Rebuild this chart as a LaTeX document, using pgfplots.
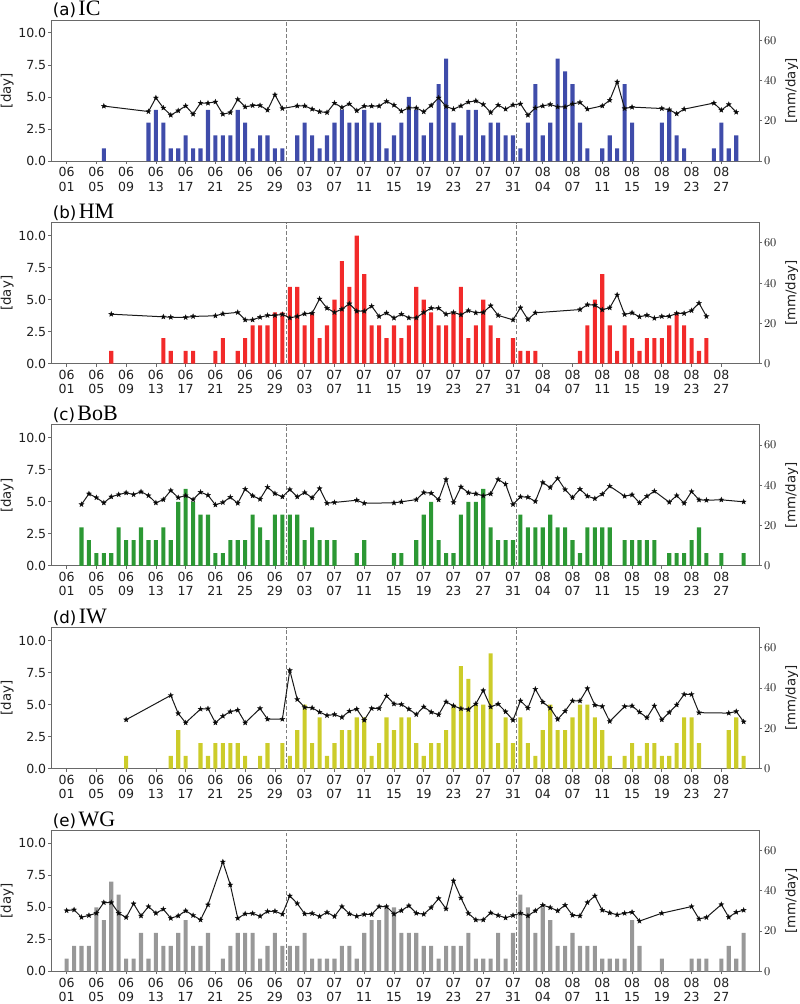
\documentclass[border=0pt]{standalone}
\usepackage{pgfplots}
\pgfplotsset{compat=1.18}
\usepackage{pgfplotstable}
\usepackage{fontspec}
\setmainfont{DejaVu Sans}
\newfontfamily\serifT{Liberation Serif}

\definecolor{cA}{RGB}{63,76,170}
\definecolor{cB}{RGB}{242,42,42}
\definecolor{cC}{RGB}{44,152,52}
\definecolor{cD}{RGB}{204,204,42}
\definecolor{cE}{RGB}{152,152,152}
\definecolor{frameC}{RGB}{105,105,105}
\definecolor{dashC}{RGB}{125,125,125}

\pgfdeclareplotmark{fstar}{%
  \pgfpathmoveto{\pgfpointpolar{90}{\pgfplotmarksize}}%
  \pgfpathlineto{\pgfpointpolar{126}{0.42\pgfplotmarksize}}%
  \pgfpathlineto{\pgfpointpolar{162}{\pgfplotmarksize}}%
  \pgfpathlineto{\pgfpointpolar{198}{0.42\pgfplotmarksize}}%
  \pgfpathlineto{\pgfpointpolar{234}{\pgfplotmarksize}}%
  \pgfpathlineto{\pgfpointpolar{270}{0.42\pgfplotmarksize}}%
  \pgfpathlineto{\pgfpointpolar{306}{\pgfplotmarksize}}%
  \pgfpathlineto{\pgfpointpolar{342}{0.42\pgfplotmarksize}}%
  \pgfpathlineto{\pgfpointpolar{18}{\pgfplotmarksize}}%
  \pgfpathlineto{\pgfpointpolar{54}{0.42\pgfplotmarksize}}%
  \pgfpathclose\pgfusepathqfillstroke}

% x = day index (0 = 06/01), n = days [day], r = rainfall [mm/day]
\pgfplotstableread{
x n r
5 1 27.3
11 3 24.6
12 4 31.4
13 3 26.4
14 1 22.8
15 1 25.0
16 2 27.4
17 1 23.3
18 1 28.8
19 4 28.8
20 2 29.4
21 2 23.3
22 2 24.1
23 4 30.6
24 3 26.9
25 1 27.6
26 2 27.6
27 2 25.3
28 1 32.9
29 1 26.1
31 2 27.4
32 3 27.4
33 2 25.8
34 1 24.5
35 2 24.1
36 3 28.8
37 4 26.6
38 3 28.4
39 3 25.0
40 4 27.3
41 3 27.3
42 3 27.3
43 1 29.6
44 2 27.8
45 3 24.8
46 5 26.4
47 4 26.4
48 2 24.5
49 3 27.6
50 6 31.4
51 8 27.1
52 3 25.8
53 2 27.4
54 4 29.3
55 4 29.9
56 2 28.1
57 3 24.1
58 3 27.8
59 2 25.8
60 2 27.9
61 1 28.4
62 3 22.8
63 6 26.4
64 2 27.4
65 3 28.1
66 8 26.9
67 7 26.9
68 6 28.4
69 3 29.1
70 1 25.8
72 1 27.4
73 2 30.2
74 1 39.3
75 6 26.1
76 3 26.8
80 3 26.1
81 4 25.5
82 2 23.5
83 1 25.8
87 1 28.8
88 3 25.3
89 1 28.1
90 2 24.3
}\tA

\pgfplotstableread{
x n r
6 1 24.6
13 2 23.3
14 1 23.1
16 1 23.0
17 1 23.5
20 1 23.8
21 2 24.8
23 1 25.5
24 2 21.8
25 3 21.8
26 3 23.1
27 3 24.0
28 4 24.0
29 4 24.5
30 6 22.8
31 6 23.5
32 3 24.8
33 4 25.1
34 2 32.2
35 3 27.6
36 5 25.5
37 8 27.1
38 6 29.8
39 10 26.1
40 7 26.1
41 3 28.6
42 3 23.5
43 2 25.2
44 3 22.7
45 2 24.6
46 3 22.8
47 6 22.8
48 5 25.5
49 4 27.6
50 3 27.6
51 3 24.6
52 4 25.5
53 6 24.3
54 2 26.4
55 3 25.3
56 5 25.5
57 3 28.8
58 2 24.0
60 2 21.8
61 1 27.8
62 1 22.0
63 1 25.3
69 1 26.9
70 3 29.3
71 5 29.1
72 7 26.8
73 3 27.8
74 1 34.2
75 3 24.5
76 2 25.3
77 1 23.3
78 2 24.1
79 2 22.6
80 2 23.5
81 3 23.6
82 4 25.0
83 3 25.0
84 2 26.4
85 1 30.1
86 2 23.5
}\tB

\pgfplotstableread{
x n r
2 3 30.5
3 2 35.8
4 1 33.9
5 1 31.3
6 1 34.3
7 3 35.4
8 2 36.3
9 2 35.4
10 3 36.8
11 2 34.9
12 2 31.3
13 3 32.9
14 2 37.4
15 5 33.9
16 6 34.9
17 5 32.9
18 4 36.6
19 4 35.1
20 1 30.3
21 1 31.5
22 2 34.1
23 2 31.1
24 2 38.1
25 4 34.8
26 3 33.1
27 2 39.1
28 4 35.9
29 4 34.3
30 4 37.9
31 4 34.3
32 2 36.4
33 3 33.8
34 2 38.4
35 2 31.1
36 2 31.5
39 1 32.6
40 2 31.1
44 1 31.3
45 1 31.8
47 2 32.9
48 4 36.4
49 5 36.1
50 2 32.8
51 1 42.9
52 1 31.5
53 4 39.2
54 5 36.3
55 5 35.8
56 6 34.8
57 3 35.8
58 2 42.9
59 2 40.6
60 2 30.5
61 4 34.3
62 3 34.1
63 3 32.0
64 3 41.4
65 4 38.9
66 3 43.4
67 3 37.9
68 2 33.9
69 1 38.1
70 3 34.6
71 3 33.4
72 3 35.6
73 3 39.6
75 2 34.6
76 2 35.3
77 2 31.3
78 2 34.6
79 2 37.1
81 1 31.6
82 1 34.9
83 1 31.1
84 2 36.9
85 3 32.8
86 1 32.6
88 1 32.8
91 1 31.8
}\tC

\pgfplotstableread{
x n r
8 1 24.3
14 1 36.4
15 3 27.4
16 1 22.8
18 2 29.6
19 1 29.8
20 2 22.8
21 2 26.1
22 2 28.3
23 2 29.1
24 1 22.8
26 1 29.9
27 2 24.6
29 2 24.6
30 1 48.8
31 3 34.4
32 5 30.4
33 2 30.2
34 4 28.1
35 1 26.4
36 2 26.9
37 3 25.5
38 3 28.6
39 4 29.6
40 4 24.1
41 1 29.9
42 2 29.9
43 4 36.1
44 3 32.2
45 4 31.9
46 4 29.6
47 2 26.9
48 1 30.7
49 2 28.1
50 2 26.8
51 3 33.2
52 5 31.2
53 8 29.8
54 7 29.4
55 5 32.2
56 5 38.8
57 9 30.7
58 2 32.1
59 4 28.3
60 2 24.1
61 4 33.7
62 2 30.1
63 1 39.5
64 3 33.1
65 5 30.1
66 3 24.5
67 3 28.6
68 4 33.7
69 5 33.7
70 5 39.8
71 4 31.6
72 3 30.9
73 1 23.5
75 1 30.9
76 2 31.2
77 1 28.1
78 2 25.3
79 2 31.2
80 1 24.3
81 1 27.9
82 2 31.7
83 4 36.9
84 4 36.9
85 2 27.8
89 3 27.6
90 4 28.4
91 1 23.3
}\tD

\pgfplotstableread{
x n r
0 1 30.2
1 2 30.6
2 2 26.9
3 2 27.8
4 5 28.9
5 4 34.2
6 7 34.2
7 6 28.9
8 1 26.8
9 1 33.6
10 3 27.6
11 1 32.2
12 3 28.9
13 2 30.9
14 2 26.4
15 3 27.6
16 4 30.1
17 2 27.8
18 2 25.6
19 3 33.1
21 1 54.4
22 2 43.0
23 3 26.4
24 3 28.6
25 3 28.8
26 1 27.4
27 2 29.8
28 3 29.9
29 2 28.4
30 2 37.5
31 2 33.7
32 3 28.6
33 1 28.8
34 1 27.3
35 1 29.3
36 1 27.3
37 2 32.2
38 2 28.6
39 1 27.4
40 3 28.3
41 4 28.3
42 4 32.2
43 5 32.2
44 5 28.5
45 3 30.2
46 3 32.6
47 3 28.9
48 2 28.4
49 2 31.7
50 1 36.2
51 2 31.1
52 2 45.0
53 2 36.5
54 3 28.8
55 1 25.6
56 1 25.6
57 1 29.1
58 3 27.8
59 1 26.6
60 3 27.8
61 6 28.9
62 5 27.6
63 3 30.1
64 5 32.9
65 4 31.7
66 2 30.1
67 2 32.9
68 3 27.9
69 2 27.6
70 2 34.2
71 2 37.5
72 1 30.4
73 1 29.1
74 1 28.1
75 1 28.9
76 4 29.4
77 2 25.0
80 1 28.9
84 1 32.2
85 1 26.1
86 1 26.8
88 1 33.2
89 2 26.9
90 1 29.4
91 3 30.4
}\tE

\pgfplotsset{
  base/.style={scale only axis, width=531.2pt, height=105.75pt,
    xmin=-2.1, xmax=93.1, ymin=0,
    axis line style={frameC, line width=0.6pt},
    tick style={frameC, line width=0.6pt},
    tick align=outside, major tick length=2.2pt,
    ticklabel style={font=\fontsize{9.4}{10.7}\selectfont, text=black!88},
  },
  leftax/.style={base, ymax=11,
    ytick={0,2.5,5,7.5,10}, yticklabels={0.0,2.5,5.0,7.5,10.0},
    xtick={0,4,...,88},
    xticklabels={{06\\01},{06\\05},{06\\09},{06\\13},{06\\17},{06\\21},{06\\25},{06\\29},{07\\03},{07\\07},{07\\11},{07\\15},{07\\19},{07\\23},{07\\27},{07\\31},{08\\04},{08\\07},{08\\11},{08\\15},{08\\19},{08\\23},{08\\27}},
    xticklabel style={align=center, inner sep=1.5pt, yshift=-1pt},
    yticklabel style={inner sep=1.2pt},
    tick pos=left,
    ylabel={[day]},
    ylabel style={at={(axis description cs:-0.0617,0.5)}, anchor=center, font=\fontsize{10}{10}\selectfont, text=black!88},
  },
  rightax/.style={base, ymax=70, axis x line=none, axis y line*=right,
    ytick={0,20,40,60},
    yticklabel style={inner sep=1.2pt},
    ylabel={[mm/day]},
    ylabel style={at={(axis description cs:1.0457,0.5)}, anchor=center, font=\fontsize{10}{10}\selectfont, text=black!88},
  },
}

\newcommand{\panel}[6]{%
\begin{axis}[leftax, name=#1, at={(38.25pt,#2)}, anchor=south west]
  \addplot[ybar, bar width=0.55, fill=#4, draw=none] table[x=x,y=n]{#3};
  \addplot[dashC, dash pattern=on 2.8pt off 1.6pt, line width=0.7pt] coordinates {(29.5,0) (29.5,11)};
  \addplot[dashC, dash pattern=on 2.8pt off 1.6pt, line width=0.7pt] coordinates {(60.5,0) (60.5,11)};
\end{axis}
\begin{axis}[rightax, at={(38.25pt,#2)}, anchor=south west]
  \addplot[black!90, line width=0.75pt, mark=fstar, mark size=1.9pt, mark options={solid, fill=black, line width=0.3pt}] table[x=x,y=r]{#3};
\end{axis}
\node[anchor=base west, inner sep=0pt, xshift=1.2pt, yshift=3.3pt] at (#1.north west)
  {{\fontsize{12.5}{12.5}\selectfont (#5)}\hspace{1.8pt}{\fontsize{16.5}{16.5}\selectfont\serifT #6}};
}

\begin{document}
\begin{tikzpicture}
\useasboundingbox (0pt,-1.2pt) rectangle (600pt,-754.2pt);
\panel{axA}{-122.0pt}{\tA}{cA}{a}{IC}
\panel{axB}{-274.0pt}{\tB}{cB}{b}{HM}
\panel{axC}{-425.6pt}{\tC}{cC}{c}{BoB}
\panel{axD}{-577.7pt}{\tD}{cD}{d}{IW}
\panel{axE}{-729.75pt}{\tE}{cE}{e}{WG}
\end{tikzpicture}
\end{document}
